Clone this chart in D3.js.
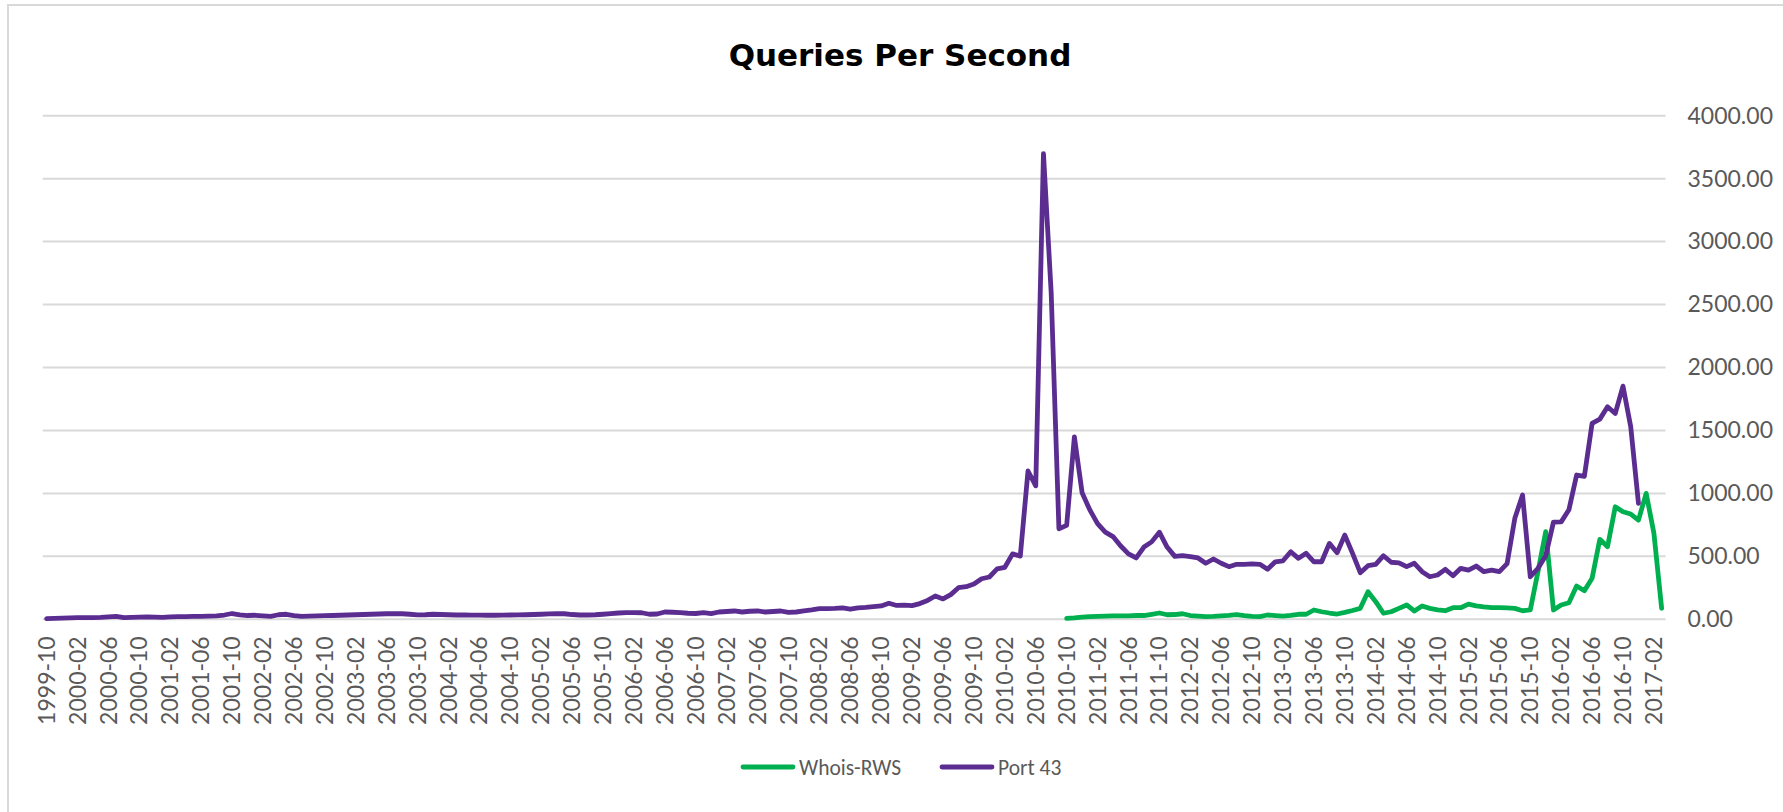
<!DOCTYPE html>
<html>
<head>
<meta charset="utf-8">
<title>Queries Per Second</title>
<script src="https://cdn.jsdelivr.net/npm/d3@7"></script>
<style>
body { margin: 0; background: #ffffff; }
svg { display: block; }
</style>
</head>
<body>
<svg></svg>
<script>
// monthly categories 1999-10 .. 2017-03, one label every 4 months
var firstMonth = "1999-10"
var lastMonth = "2017-03"
var labelEvery = 4

var yTicks = [0, 500, 1000, 1500, 2000, 2500, 3000, 3500, 4000]

// Port 43, starts 1999-10, ends 2016-12
var port43 = [
    5, 8, 10, 12, 13, 13, 13, 15, 20, 24,
    14, 16, 18, 20, 18, 16, 20, 22, 22, 24,
    24, 26, 28, 34, 46, 36, 30, 32, 28, 24,
    36, 40, 30, 24, 26, 28, 29, 30, 32, 34,
    36, 38, 40, 42, 44, 45, 44, 40, 35, 36,
    40, 38, 36, 34, 34, 33, 33, 32, 32, 33,
    34, 35, 36, 38, 40, 43, 45, 44, 38,
    34, 34, 36, 40, 45, 50, 53, 53, 52, 40, 42,
    58, 56, 53, 48, 46, 53, 45, 58, 62, 66,
    58, 64, 66, 58, 62, 66, 55, 58, 66, 74,
    84, 84, 86, 90, 80, 90, 94, 100, 106, 127,
    110, 112, 109, 125, 150, 185, 162, 196, 251, 259,
    280, 322, 336, 400, 413, 520, 502, 1178, 1060,
    3699, 2592, 719, 746, 1449, 1006, 869, 760, 692, 657, 582,
    520, 487, 574, 615, 692, 574, 500, 506, 498, 487,
    445, 479, 445, 418, 437, 437, 441, 437, 397, 457,
    465, 537, 484, 524, 457, 457, 603, 529, 669, 524,
    370, 426, 437, 505, 453, 449, 418, 445, 378, 338,
    352, 397, 346, 405, 391, 423, 378, 391, 378, 442,
    802, 987, 338, 405, 505, 772, 774, 870, 1146, 1136,
    1556, 1590, 1688, 1635, 1852, 1529, 921
]
var port43Start = "1999-10"

// Whois-RWS, starts 2010-10
var whoisRws = [
    8, 12, 18, 22, 24, 26, 28, 28, 28, 30,
    30, 40, 50, 36, 38, 44, 30, 26, 22, 24,
    28, 32, 38, 30, 24, 22, 34, 30, 26, 32,
    40, 40, 74, 60, 50, 42, 55, 70, 87, 219,
    140, 48, 60, 87, 114, 66, 106, 87, 75, 68,
    92, 92, 121, 106, 98, 92, 92, 90, 87, 68,
    74, 380, 696, 74, 114, 132, 264, 227, 326, 635,
    577, 894, 854, 836, 788, 1000, 683, 87
]
var whoisStart = "2010-10"

var seriesNames = ["Whois-RWS", "Port 43"]
var seriesColors = ["#00b050", "#5b2d90"]

var screen = {width: 1783, height: 812}
var plot = {left: 42.8, right: 1665.5, top: 115.7, bottom: 619.3}

var fmtMonth = d3.timeFormat("%Y-%m")
var parseMonth = d3.timeParse("%Y-%m")

var months = d3.timeMonth.range(parseMonth(firstMonth),
                                d3.timeMonth.offset(parseMonth(lastMonth), 1))
               .map(function(d){return fmtMonth(d)})

var toPoints = function(values, start)
    {
        var offset = months.indexOf(start)
        return values.map(function(v, i)
                   {
                        return {m: months[offset + i], v: v}
                   })
    }

var series = [
    {name: seriesNames[0], color: seriesColors[0], points: toPoints(whoisRws, whoisStart)},
    {name: seriesNames[1], color: seriesColors[1], points: toPoints(port43, port43Start)}
]

var svg = d3.select("svg")
    .attr("width", screen.width)
    .attr("height", screen.height)

// outer chart frame (only left and top show in the picture)
svg.append("rect")
    .attr("x", 8).attr("y", 5)
    .attr("width", 1900).attr("height", 900)
    .attr("fill", "none")
    .attr("stroke", "#d9d9d9")
    .attr("stroke-width", 2)

var xScale = d3.scaleBand()
    .domain(months)
    .range([plot.left, plot.right])

var yScale = d3.scaleLinear()
    .domain([0, 4000])
    .range([plot.bottom, plot.top])

var xMid = function(m){return xScale(m) + xScale.bandwidth() / 2}

// grid lines
svg.append("g")
    .selectAll("line")
    .data(yTicks)
    .enter()
    .append("line")
    .attr("x1", plot.left)
    .attr("x2", plot.right)
    .attr("y1", function(t){return yScale(t)})
    .attr("y2", function(t){return yScale(t)})
    .attr("stroke", "#d9d9d9")
    .attr("stroke-width", 2)

// right axis
var yAxis = d3.axisRight(yScale)
    .tickValues(yTicks)
    .tickFormat(d3.format(".2f"))
    .tickSize(0)
    .tickPadding(22)

var yAxisG = svg.append("g")
    .attr("transform", "translate(" + plot.right + ",0)")
    .call(yAxis)
yAxisG.select(".domain").remove()
yAxisG.selectAll("text")
    .attr("font-family", "Lato, 'Century Gothic', sans-serif")
    .attr("font-size", 23)
    .attr("fill", "#595959")

// bottom axis, rotated labels
var xAxis = d3.axisBottom(xScale)
    .tickValues(months.filter(function(m, i){return i % labelEvery == 0}))
    .tickSize(0)
    .tickPadding(0)

var xAxisG = svg.append("g")
    .attr("transform", "translate(0," + plot.bottom + ")")
    .call(xAxis)
xAxisG.select(".domain").remove()
xAxisG.selectAll("text")
    .attr("font-family", "Lato, 'Century Gothic', sans-serif")
    .attr("font-size", 23)
    .attr("fill", "#595959")
    .attr("text-anchor", "end")
    .attr("transform", "rotate(-90)")
    .attr("x", -17)
    .attr("y", 0)
    .attr("dy", "0.35em")

// lines
var line = d3.line()
    .x(function(p){return xMid(p.m)})
    .y(function(p){return yScale(p.v)})

svg.append("g")
    .selectAll("path")
    .data(series)
    .enter()
    .append("path")
    .attr("d", function(s){return line(s.points)})
    .attr("fill", "none")
    .attr("stroke", function(s){return s.color})
    .attr("stroke-width", 4.8)
    .attr("stroke-linejoin", "round")
    .attr("stroke-linecap", "round")

// title
svg.append("text")
    .attr("x", 900)
    .attr("y", 66)
    .attr("text-anchor", "middle")
    .attr("font-family", "'DejaVu Sans', sans-serif")
    .attr("font-weight", "bold")
    .attr("font-size", 31)
    .attr("fill", "#000000")
    .text("Queries Per Second")

// legend
var legendX = [741, 940]
var legend = svg.append("g")
    .selectAll("g")
    .data(series)
    .enter()
    .append("g")
    .attr("transform", function(s, i){return "translate(" + legendX[i] + ",767)"})

legend.append("line")
    .attr("x1", 2).attr("x2", 52)
    .attr("y1", 0).attr("y2", 0)
    .attr("stroke", function(s){return s.color})
    .attr("stroke-width", 4.8)
    .attr("stroke-linecap", "round")

legend.append("text")
    .attr("x", 58)
    .attr("y", 0)
    .attr("dy", "0.35em")
    .attr("font-family", "Calibri, Carlito, 'Liberation Sans', sans-serif")
    .attr("font-size", 21.5)
    .attr("fill", "#595959")
    .text(function(s){return s.name})
</script>
</body>
</html>
